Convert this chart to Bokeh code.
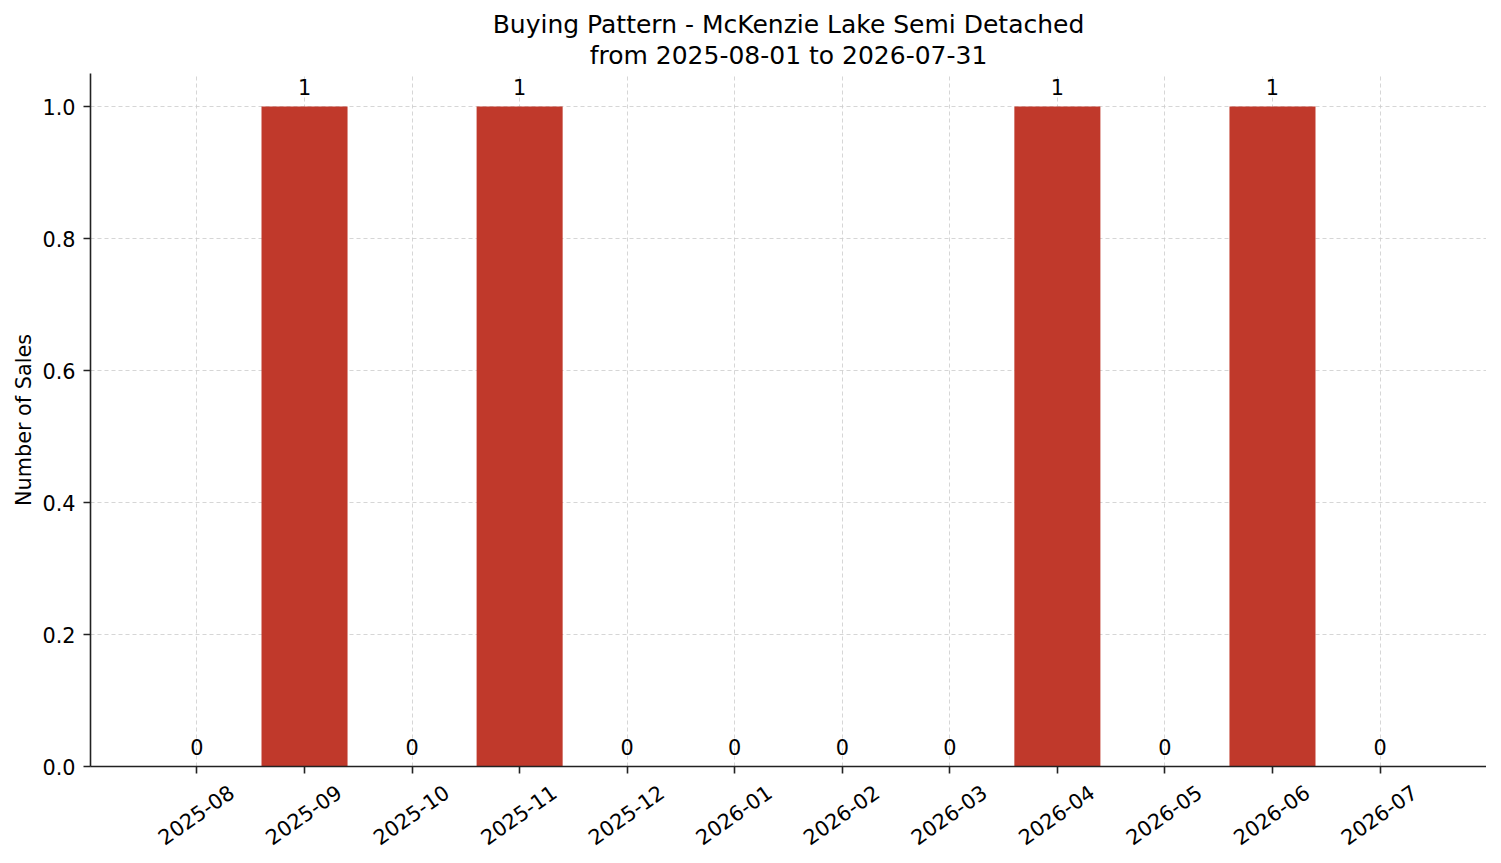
from math import radians
from bokeh.plotting import figure
from bokeh.models import Range1d, FixedTicker, ColumnDataSource, Title, LinearAxis
from bokeh.embed import file_html
from bokeh.resources import INLINE

# datos del gráfico
months = ["2025-08", "2025-09", "2025-10", "2025-11", "2025-12", "2026-01",
          "2026-02", "2026-03", "2026-04", "2026-05", "2026-06", "2026-07"]
sales = [0, 1, 0, 1, 0, 0, 0, 0, 1, 0, 1, 0]
y_ticks = [0.0, 0.2, 0.4, 0.6, 0.8, 1.0]

FONT = "DejaVu Sans"
positions = list(range(len(months)))
src = ColumnDataSource(dict(x=positions, top=sales, label=[str(v) for v in sales]))

p = figure(frame_width=1396, frame_height=693, output_backend="svg",
           toolbar_location=None, x_range=Range1d(-0.99, 11.99), y_range=Range1d(0, 1.05),
           x_axis_location=None,
           min_border_left=90, min_border_right=0, min_border_top=73, min_border_bottom=20)

p.add_layout(Title(text="from 2025-08-01 to 2026-07-31", align="center", text_font=FONT,
                   text_font_size="25px", text_font_style="normal", text_color="black",
                   standoff=7), "above")
p.add_layout(Title(text="Buying Pattern - McKenzie Lake Semi Detached", align="center",
                   text_font=FONT, text_font_size="25px", text_font_style="normal",
                   text_color="black", standoff=-6), "above")

p.vbar(x="x", top="top", width=0.8, source=src, fill_color="#c0392b", line_color=None)
p.text(x="x", y="top", text="label", source=src, text_align="center", text_baseline="bottom",
       y_offset=-12, text_font_size="20.8px", text_color="black", text_font={"value": FONT})

# eje x: marcas en cada mes
tick_axis = LinearAxis(ticker=FixedTicker(ticks=positions),
                       major_label_overrides={i: "" for i in positions},
                       major_label_standoff=0)
# etiquetas giradas, centradas en cada mes como en el original
shift = 0.32
label_axis = LinearAxis(ticker=FixedTicker(ticks=[i + shift for i in positions]),
                        major_label_overrides={i + shift: m for i, m in enumerate(months)},
                        major_label_orientation=radians(35), major_label_standoff=16,
                        axis_line_color=None, major_tick_line_color=None)
p.add_layout(tick_axis, "below")
p.add_layout(label_axis, "below")
p.xgrid.ticker = FixedTicker(ticks=positions)

p.yaxis.ticker = FixedTicker(ticks=y_ticks)
p.yaxis.major_label_overrides = {t: f"{t:.1f}" for t in y_ticks}
p.yaxis.axis_label = "Number of Sales"

for ax in (tick_axis, label_axis, p.yaxis[0]):
    if ax is not label_axis:
        ax.axis_line_color = "#222222"
        ax.axis_line_width = 1.6
        ax.major_tick_line_color = "#222222"
        ax.major_tick_line_width = 1.6
    ax.major_tick_out = 7
    ax.major_tick_in = 0
    ax.minor_tick_line_color = None
    ax.major_label_text_font = FONT
    ax.major_label_text_font_size = "20.8px"
    ax.major_label_text_color = "black"
    ax.axis_label_text_font = FONT
    ax.axis_label_text_font_size = "20.8px"
    ax.axis_label_text_font_style = "normal"
    ax.axis_label_text_color = "black"
label_axis.major_tick_out = 0
tick_axis.major_label_text_font_size = "1px"
p.yaxis.major_label_standoff = 8
p.yaxis.axis_label_standoff = 3

p.grid.grid_line_color = "#cccccc"
p.grid.grid_line_dash = "4 3"
p.grid.grid_line_alpha = 0.8
p.outline_line_color = None

open("out.html", "w").write(file_html(p, INLINE))
